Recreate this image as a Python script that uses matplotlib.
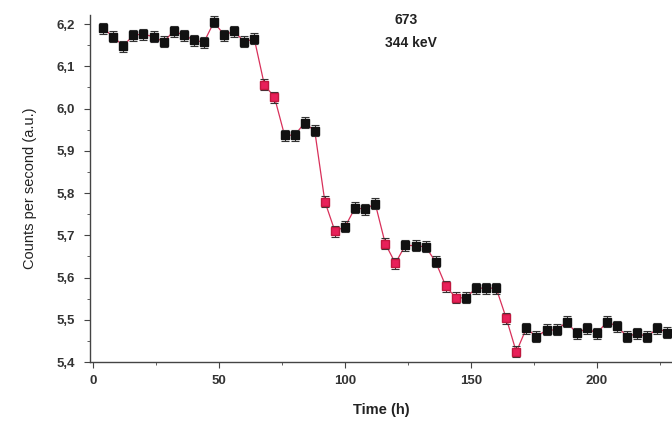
import matplotlib
matplotlib.use("Agg")
import matplotlib.pyplot as plt
import numpy as np
from matplotlib.ticker import FuncFormatter, MultipleLocator

plt.rcParams['font.family'] = ['Liberation Sans', 'DejaVu Sans']

# time (h) and counts per second
time_h = [4, 8, 12, 16, 20, 24, 28, 32, 36, 40, 44, 48, 52, 56, 60, 64,
          68, 72, 76, 80, 84, 88, 92, 96, 100, 104, 108, 112,
          116, 120, 124, 128, 132, 136, 140, 144, 148, 152, 156, 160,
          164, 168, 172, 176, 180, 184, 188, 192, 196, 200, 204, 208,
          212, 216, 220, 224, 228]
counts = [6.190, 6.170, 6.148, 6.174, 6.176, 6.170, 6.158, 6.183, 6.174, 6.162,
          6.157, 6.205, 6.174, 6.183, 6.158, 6.165,
          6.056, 6.027, 5.937, 5.937, 5.966, 5.947, 5.780, 5.710, 5.720, 5.765,
          5.762, 5.775,
          5.680, 5.634, 5.677, 5.675, 5.673, 5.637, 5.580, 5.552, 5.552, 5.575,
          5.575, 5.575,
          5.504, 5.424, 5.480, 5.460, 5.476, 5.476, 5.495, 5.468, 5.480, 5.468,
          5.495, 5.485, 5.460, 5.468, 5.460, 5.480, 5.470]
errors = [0.013] * len(counts)
# points on the drops, drawn in red
red_times = [68, 72, 92, 96, 116, 120, 140, 144, 164, 168]

t = np.array(time_h)
c = np.array(counts)
e = np.array(errors)
is_red = np.isin(t, red_times)

fig = plt.figure(figsize=(6.72, 4.22), dpi=100)
ax = fig.add_axes([0.134, 0.142, 0.866, 0.822])

ax.plot(t, c, color='#d8305a', lw=0.9, zorder=1)
ax.errorbar(t, c, yerr=e, fmt='none', ecolor='#333333', elinewidth=0.8,
            capsize=2.8, capthick=0.8, zorder=2)
ax.plot(t[~is_red], c[~is_red], 's', ms=5.6, color='#111111', zorder=3)
ax.plot(t[is_red], c[is_red], 's', ms=5.6, color='#e8205a',
        markeredgecolor='#c0183f', zorder=3)

ax.set_xlim(-1.2, 229.8)
ax.set_ylim(5.4, 6.221)
ax.xaxis.set_major_locator(MultipleLocator(50))
ax.xaxis.set_minor_locator(MultipleLocator(25))
ax.yaxis.set_major_locator(MultipleLocator(0.1))
ax.yaxis.set_minor_locator(MultipleLocator(0.05))
ax.yaxis.set_major_formatter(FuncFormatter(lambda v, p: f"{v:.1f}".replace('.', ',')))

for side in ['top', 'right']:
    ax.spines[side].set_visible(False)
for side in ['left', 'bottom']:
    ax.spines[side].set_color('#444444')
    ax.spines[side].set_linewidth(1.0)

ax.tick_params(axis='both', which='major', direction='out', length=4,
               color='#444444', labelsize=9.5, labelcolor='#333333', pad=5)
ax.tick_params(axis='y', which='major', pad=7)
ax.tick_params(axis='both', which='minor', direction='out', length=2.5,
               color='#444444')
for lab in ax.get_xticklabels() + ax.get_yticklabels():
    lab.set_fontweight('bold')

ax.set_xlabel('Time (h)', fontsize=10.5, fontweight='bold', color='#222222', labelpad=12)
ax.set_ylabel('Counts per second (a.u.)', fontsize=10.5, color='#222222', labelpad=14)

fig.text(0.604, 0.953, '673', ha='center', va='center', fontsize=10,
         fontweight='bold', color='#222222')
fig.text(0.612, 0.898, '344 keV', ha='center', va='center', fontsize=10,
         fontweight='bold', color='#222222')

fig.savefig('out.png', dpi=100)
